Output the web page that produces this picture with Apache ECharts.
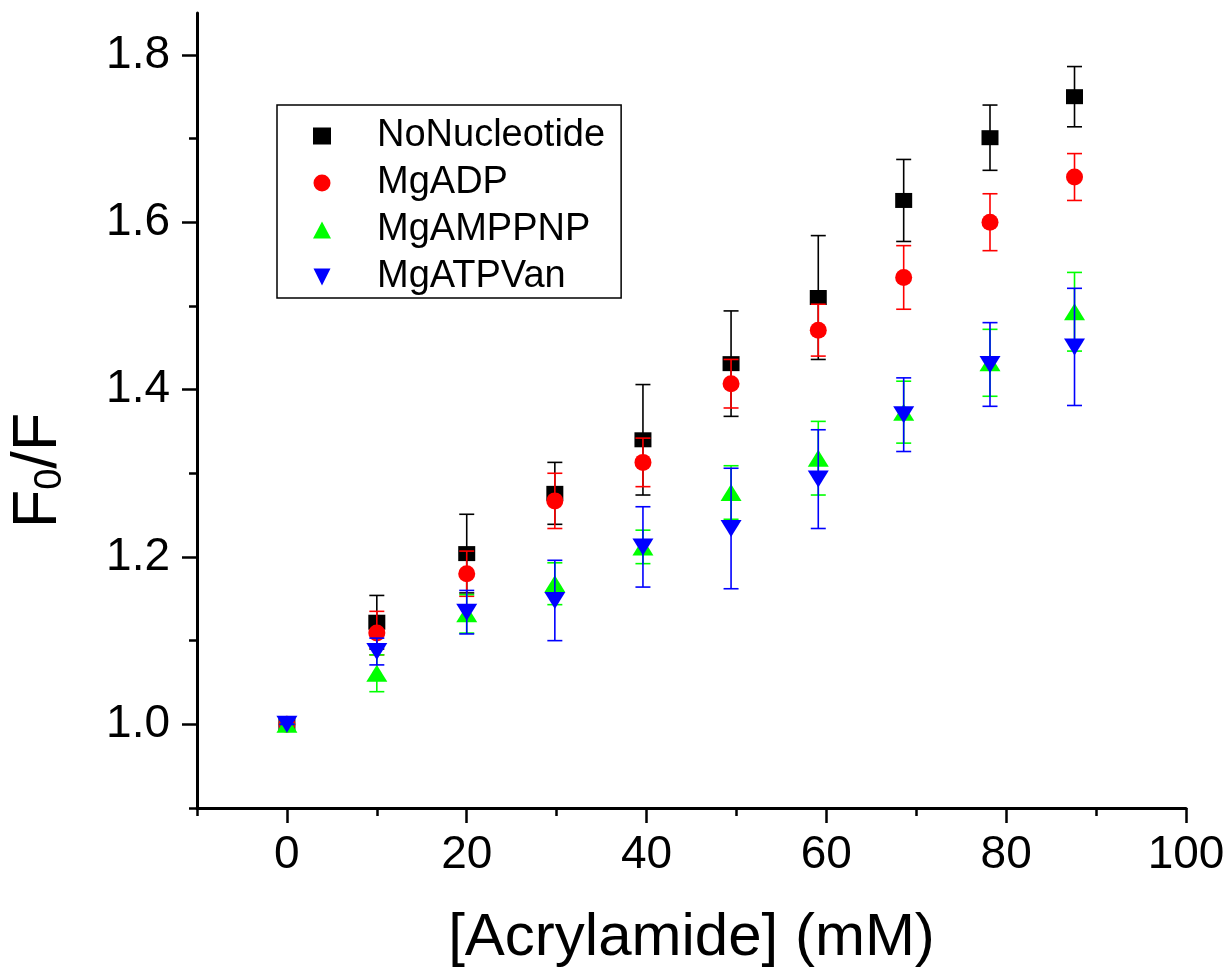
<!DOCTYPE html>
<html><head><meta charset="utf-8">
<script src="https://cdn.jsdelivr.net/npm/echarts@6/dist/echarts.min.js"></script>
<style>html,body{margin:0;padding:0;background:#fff}#c{width:1231px;height:977px}</style>
</head><body><div id="c"></div>
<script>
// ---- data ----
const seriesNames = ['NoNucleotide', 'MgADP', 'MgAMPPNP', 'MgATPVan'];
const acrylamide = [0, 10, 20, 29.8, 39.6, 49.4, 59.1, 68.6, 78.2, 87.6];
const noNucleotide    = [1.0, 1.122, 1.204, 1.276, 1.340, 1.431, 1.510, 1.626, 1.701, 1.750];
const noNucleotideErr = [0.0, 0.032, 0.047, 0.037, 0.066, 0.063, 0.074, 0.049, 0.039, 0.036];
const mgADP    = [1.0, 1.109, 1.180, 1.267, 1.313, 1.407, 1.471, 1.534, 1.600, 1.654];
const mgADPErr = [0.0, 0.026, 0.027, 0.033, 0.029, 0.029, 0.031, 0.038, 0.034, 0.028];
const mgAMPPNP    = [1.0, 1.061, 1.132, 1.168, 1.212, 1.277, 1.318, 1.373, 1.432, 1.493];
const mgAMPPNPErr = [0.0, 0.022, 0.023, 0.025, 0.020, 0.032, 0.044, 0.037, 0.040, 0.047];
const mgATPVan    = [1.0, 1.087, 1.134, 1.148, 1.212, 1.234, 1.293, 1.370, 1.430, 1.451];
const mgATPVanErr = [0.0, 0.016, 0.026, 0.048, 0.048, 0.072, 0.059, 0.044, 0.050, 0.070];
const xMajorTicks = [0, 20, 40, 60, 80, 100];
const xMinorTicks = [-10, 10, 30, 50, 70, 90];
const yMajorTicks = [1.0, 1.2, 1.4, 1.6, 1.8];
const yMinorTicks = [0.9, 1.1, 1.3, 1.5, 1.7];

// ---- styles ----
const FONT = '"Liberation Sans", Arial, sans-serif';
const colors = ['#000000', '#ff0000', '#00ff00', '#0000ff'];
const symbols = ['rect', 'circle', 'triangle', 'path://M0,0 L10,0 L5,10 Z'];
const symbolSizes = [[17, 15], 17, [21, 17], [21, 17]];
const values = [noNucleotide, mgADP, mgAMPPNP, mgATPVan];
const errors = [noNucleotideErr, mgADPErr, mgAMPPNPErr, mgATPVanErr];

function errRender(params, api) {
  const x = api.value(0), y = api.value(1), e = api.value(2);
  const hi = api.coord([x, y + e]), lo = api.coord([x, y - e]);
  const half = 7.5;
  const style = { stroke: api.visual('color'), lineWidth: 1.6 };
  return { type: 'group', children: [
    { type: 'line', shape: { x1: hi[0], y1: hi[1], x2: lo[0], y2: lo[1] }, style },
    { type: 'line', shape: { x1: hi[0] - half, y1: hi[1], x2: hi[0] + half, y2: hi[1] }, style },
    { type: 'line', shape: { x1: lo[0] - half, y1: lo[1], x2: lo[0] + half, y2: lo[1] }, style }
  ]};
}

const series = [];
seriesNames.forEach((name, i) => {
  series.push({
    name: name, type: 'scatter', z: 3 + i * 2,
    symbol: symbols[i], symbolSize: symbolSizes[i],
    itemStyle: { color: colors[i], opacity: 1 },
    data: acrylamide.map((x, k) => [x, values[i][k]])
  });
  series.push({
    name: name + ' error', type: 'custom', z: 2 + i * 2,
    itemStyle: { color: colors[i] },
    renderItem: errRender,
    encode: { x: 0, y: 1 },
    data: acrylamide.map((x, k) => [x, values[i][k], errors[i][k]])
  });
});

const axisLineStyle = { color: '#000', width: 3 };
const chart = echarts.init(document.getElementById('c'), null, { renderer: 'canvas' });
chart.setOption({
  animation: false,
  backgroundColor: '#fff',
  grid: { left: 197, right: 45, top: 13, bottom: 169, containLabel: false, outerBoundsMode: 'none' },
  legend: {
    data: seriesNames,
    orient: 'vertical',
    left: 277, top: 105,
    padding: [12, 16, 2, 36],
    itemWidth: 18, itemHeight: 17, itemGap: 9,
    symbolKeepAspect: true,
    borderColor: '#000', borderWidth: 1.5,
    backgroundColor: '#fff',
    textStyle: { fontFamily: FONT, fontSize: 38, lineHeight: 38, color: '#000', padding: [0, 0, 0, 41] },
    selectedMode: false
  },
  xAxis: [{
    type: 'value', min: -10, max: 100, position: 'bottom',
    axisLine: { show: true, onZero: false, lineStyle: axisLineStyle },
    axisTick: { show: true, customValues: xMajorTicks, length: 15, lineStyle: { color: '#000', width: 2.5 } },
    axisLabel: { customValues: xMajorTicks, margin: 24, fontFamily: FONT, fontSize: 46, color: '#000' },
    splitLine: { show: false },
    name: '[Acrylamide] (mM)', nameLocation: 'middle', nameGap: 100,
    nameTextStyle: { fontFamily: FONT, fontSize: 60, color: '#000' }
  }, {
    type: 'value', min: -10, max: 100, position: 'bottom',
    axisLine: { show: false, onZero: false },
    axisTick: { show: true, customValues: xMinorTicks, length: 8, lineStyle: { color: '#000', width: 2.5 } },
    axisLabel: { show: false },
    splitLine: { show: false }
  }],
  yAxis: [{
    type: 'value', min: 0.9, max: 1.85, position: 'left',
    axisLine: { show: true, onZero: false, lineStyle: axisLineStyle },
    axisTick: { show: true, customValues: yMajorTicks, length: 15, lineStyle: { color: '#000', width: 2.5 } },
    axisLabel: { customValues: yMajorTicks, margin: 27, fontFamily: FONT, fontSize: 46, color: '#000',
      formatter: v => v.toFixed(1) },
    splitLine: { show: false },
    name: 'F{sub|0}/F', nameLocation: 'middle', nameGap: 127, nameRotate: 90,
    nameTextStyle: { fontFamily: FONT, fontSize: 63, lineHeight: 63, color: '#000', padding: [0, 120, 0, 0],
      rich: { sub: { fontFamily: FONT, fontSize: 38, lineHeight: 10, verticalAlign: 'bottom', color: '#000' } } }
  }, {
    type: 'value', min: 0.9, max: 1.85, position: 'left',
    axisLine: { show: false, onZero: false },
    axisTick: { show: true, customValues: yMinorTicks, length: 8, lineStyle: { color: '#000', width: 2.5 } },
    axisLabel: { show: false },
    splitLine: { show: false }
  }],
  series: series
});
</script>
</body></html>
